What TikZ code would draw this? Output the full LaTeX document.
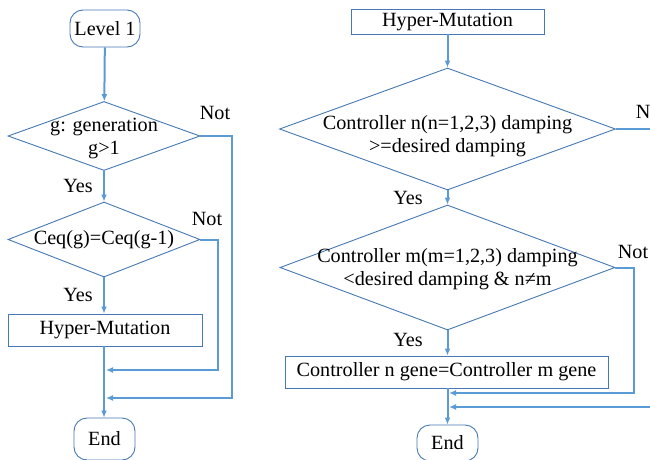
\documentclass[tikz,border=0pt]{standalone}
\usepackage{fontspec}
\setmainfont{Liberation Serif}
\usetikzlibrary{shapes.geometric,arrows.meta}
\definecolor{conncol}{RGB}{91,155,213}
\definecolor{bordcol}{RGB}{70,120,180}
\newcommand\dtext[2]{\makebox[0pt]{\raisebox{#1}[0pt][0pt]{\begin{tabular}{@{}c@{}}#2\end{tabular}}}}
\tikzset{
  base/.style={font=\fontsize{20.2}{23}\selectfont, text=black, inner sep=0pt},
  term/.style={base, draw=bordcol, line width=0.9pt, rectangle, rounded corners=13pt},
  procbox/.style={base, draw=bordcol, line width=0.9pt, rectangle},
  decis/.style={base, draw=bordcol, line width=0.9pt, diamond},
  conn/.style={draw=conncol, line width=2pt},
  arr/.style={conn, -{Latex[length=7pt,width=6pt]}},
  lab/.style={font=\fontsize{20.2}{23}\selectfont, text=black, inner sep=0pt}
}
\begin{document}
\begin{tikzpicture}[x=1pt,y=-1pt]
\clip (0,0) rectangle (650,460);
% left column
\node[term, minimum width=70pt, minimum height=37pt] (lv) at (105,28.5) {Level 1};
\node[decis, minimum width=192pt, minimum height=69pt] (d1) at (104,136) {\dtext{-8pt}{g: generation\\g>1}};
\node[decis, minimum width=192pt, minimum height=75pt] (d2) at (104,239.5) {\dtext{-5.5pt}{Ceq(g)=Ceq(g-1)}};
\node[procbox, minimum width=194pt, minimum height=32pt] (hm1) at (105,330) {Hyper-Mutation};
\node[term, minimum width=61pt, minimum height=42pt] (e1) at (104.5,439) {End};
\draw[arr] (lv) -- (d1);
\draw[arr] (d1) -- (d2);
\draw[arr] (d2.south) -- (hm1.north -| d2.south);
\draw[arr] (hm1.south -| d2.south) -- (e1.north -| d2.south);
\coordinate (r1) at (232,398);
\coordinate (j1) at (106,398);
\coordinate (r2) at (218,370);
\coordinate (j2) at (106,370);
\draw[arr] (d1.east) -| (r1) -- (j1);
\draw[arr] (d2.east) -| (r2) -- (j2);
\node[lab] (n1) at (215,113) {Not};
\node[lab] (n2) at (207,219) {Not};
\node[lab] (y1) at (78,186) {Yes};
\node[lab] (y2) at (78,295) {Yes};
% right column
\node[procbox, minimum width=193pt, minimum height=25pt] (hm2) at (447.5,21.5) {Hyper-Mutation};
\node[decis, minimum width=336pt, minimum height=122pt] (d3) at (447.5,129) {\dtext{-13pt}{Controller n(n=1,2,3) damping\\>=desired damping}};
\node[decis, minimum width=335pt, minimum height=125pt] (d4) at (447.5,267.5) {\dtext{-7pt}{Controller m(m=1,2,3) damping\\<desired damping \& n≠m}};
\node[procbox, minimum width=323pt, minimum height=32pt] (cb) at (446.5,372) {Controller n gene=Controller m gene};
\node[term, minimum width=61pt, minimum height=36pt] (e2) at (447.5,443) {End};
\draw[arr] (hm2) -- (d3);
\draw[arr] (d3) -- (d4);
\draw[arr] (d4) -- (d4.south |- cb.north);
\draw[arr] (d4.south |- cb.south) -- (e2);
\coordinate (o3) at (652,129);
\draw[conn] (d3.east) -- (o3);
\coordinate (r4) at (634,393);
\coordinate (j4) at (449,393);
\draw[arr] (d4.east) -| (r4) -- (j4);
\coordinate (i5) at (652,407);
\coordinate (j5) at (449,407);
\draw[arr] (i5) -- (j5);
\node[lab] (n3) at (651,112) {Not};
\node[lab] (n4) at (633,252) {Not};
\node[lab] (y3) at (408,198) {Yes};
\node[lab] (y4) at (408,340) {Yes};
\end{tikzpicture}
\end{document}
